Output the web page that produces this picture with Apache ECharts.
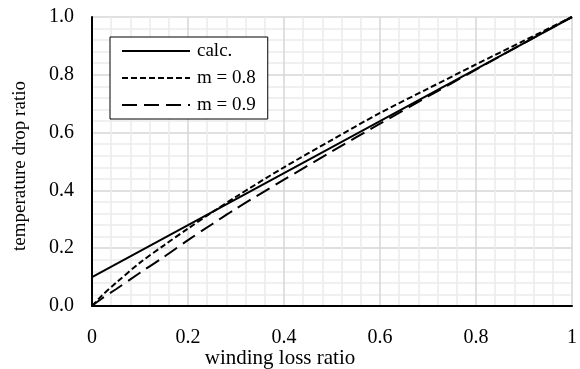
<!DOCTYPE html>
<html>
<head>
<meta charset="utf-8">
<script src="https://cdn.jsdelivr.net/npm/echarts@6/dist/echarts.min.js"></script>
<style>
  html, body { margin: 0; padding: 0; background: #fff; }
  #chart { width: 580px; height: 369px; }
</style>
</head>
<body>
<div id="chart"></div>
<script>
// winding loss ratio vs. temperature drop ratio
const calcX = [0, 0.1, 0.2, 0.3, 0.4, 0.5, 0.6, 0.7, 0.8, 0.9, 1.0];
const calcY = [0.10, 0.19, 0.28, 0.37, 0.46, 0.55, 0.64, 0.73, 0.82, 0.91, 1.0];

const m08X = [0, 0.02, 0.05, 0.1, 0.15, 0.2, 0.25, 0.3, 0.4, 0.5, 0.6, 0.7, 0.8, 0.9, 1.0];
const m08Y = [0, 0.035, 0.08, 0.15, 0.21, 0.268, 0.324, 0.378, 0.48, 0.575, 0.668, 0.752, 0.836, 0.918, 1.0];

const m09X = [0, 0.02, 0.05, 0.1, 0.15, 0.2, 0.25, 0.3, 0.4, 0.5, 0.6, 0.7, 0.8, 0.9, 1.0];
const m09Y = [0, 0.025, 0.058, 0.115, 0.17, 0.228, 0.283, 0.337, 0.437, 0.535, 0.631, 0.725, 0.818, 0.91, 1.0];

const xTicks = ['0', '0.2', '0.4', '0.6', '0.8', '1'];
const yTicks = ['0.0', '0.2', '0.4', '0.6', '0.8', '1.0'];

const seriesNames = ['calc.', 'm = 0.8', 'm = 0.9'];
const xTitle = 'winding loss ratio';
const yTitle = 'temperature drop ratio';

const FONT = '"Liberation Serif", "Times New Roman", serif';

function pairs(xs, ys) { return xs.map((x, i) => [x, ys[i]]); }

const chart = echarts.init(document.getElementById('chart'), null, { renderer: 'canvas' });

const axisCommon = {
  type: 'value',
  min: 0,
  max: 1,
  interval: 0.2,
  axisTick: { show: false },
  minorTick: { show: false, splitNumber: 5 },
  splitLine: { show: true, lineStyle: { color: '#d6d6d6', width: 1.5 } },
  minorSplitLine: { show: true, lineStyle: { color: '#ebebeb', width: 1.5 } },
  axisLine: { show: true, onZero: false, lineStyle: { color: '#000', width: 2 } }
};

chart.setOption({
  animation: false,
  backgroundColor: '#fff',
  grid: { left: 92, right: 2, top: 17, bottom: 63, containLabel: false },
  xAxis: Object.assign({}, axisCommon, {
    axisLabel: {
      margin: 22,
      fontFamily: FONT, fontSize: 20, color: '#000',
      formatter: v => xTicks[Math.round(v / 0.2)]
    }
  }),
  yAxis: Object.assign({}, axisCommon, {
    axisLabel: {
      margin: 18,
      fontFamily: FONT, fontSize: 20, color: '#000',
      formatter: v => yTicks[Math.round(v / 0.2)]
    }
  }),
  legend: {
    orient: 'vertical',
    left: 110,
    top: 37,
    backgroundColor: '#fff',
    borderColor: '#000',
    borderWidth: 1,
    borderRadius: 0,
    padding: [4, 12, 4, 11],
    itemGap: 7,
    itemWidth: 68,
    itemHeight: 14,
    itemStyle: { opacity: 0 },
    textStyle: { fontFamily: FONT, fontSize: 19, color: '#000', lineHeight: 20, padding: [0, 0, 0, 2] },
    data: seriesNames
  },
  graphic: [
    {
      type: 'text', x: 280, y: 358,
      style: { text: xTitle, font: '21px ' + FONT, fill: '#000', align: 'center', verticalAlign: 'middle' }
    },
    {
      type: 'text', x: 20, y: 166, rotation: Math.PI / 2,
      style: { text: yTitle, font: '19px ' + FONT, fill: '#000', align: 'center', verticalAlign: 'middle' }
    }
  ],
  series: [
    {
      name: seriesNames[0], type: 'line', data: pairs(calcX, calcY),
      symbol: 'none', smooth: false,
      lineStyle: { color: '#000', width: 2, type: 'solid' },
      itemStyle: { color: '#000' }
    },
    {
      name: seriesNames[1], type: 'line', data: pairs(m08X, m08Y),
      symbol: 'none', smooth: 0.3,
      lineStyle: { color: '#000', width: 2, type: [6, 3] },
      itemStyle: { color: '#000' }
    },
    {
      name: seriesNames[2], type: 'line', data: pairs(m09X, m09Y),
      symbol: 'none', smooth: 0.3,
      lineStyle: { color: '#000', width: 2, type: [15, 7] },
      itemStyle: { color: '#000' }
    }
  ]
});
</script>
</body>
</html>
